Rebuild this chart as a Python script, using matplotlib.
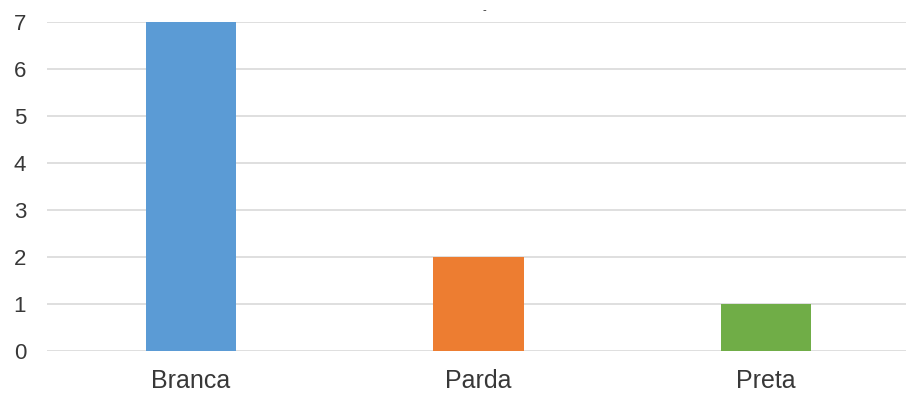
import matplotlib.pyplot as plt

plt.rcParams['font.family'] = ['Liberation Sans', 'DejaVu Sans']

categories = ["Branca", "Parda", "Preta"]
counts = [7, 2, 1]
colors = ["#5B9BD5", "#ED7D31", "#70AD47"]
yticks = [0, 1, 2, 3, 4, 5, 6, 7]

fig = plt.figure(figsize=(9.06, 3.94), dpi=100)
ax = fig.add_axes([47 / 906, 43 / 394, 863 / 906, 329 / 394])

x = range(len(categories))
ax.bar(x, counts, width=0.313, color=colors, zorder=3)

ax.set_xlim(-0.5, 2.5)
ax.set_ylim(0, 7)
ax.set_yticks(yticks)
ax.set_xticks(list(x))
ax.set_xticklabels(categories)
ax.grid(axis='y', color='#d9d9d9', linewidth=1.2, zorder=0)
ax.tick_params(axis='y', length=0, pad=15, labelsize=16, labelcolor='#383838')
ax.tick_params(axis='x', length=0, pad=13, labelsize=18, labelcolor='#383838')
for s in ax.spines.values():
    s.set_visible(False)

# remnant of the title cut off above the plot
fig.text(484 / 906, 1 - 10 / 394, "-", ha='center', va='center', fontsize=8, color='#222222')

fig.savefig("out.png", dpi=100)
